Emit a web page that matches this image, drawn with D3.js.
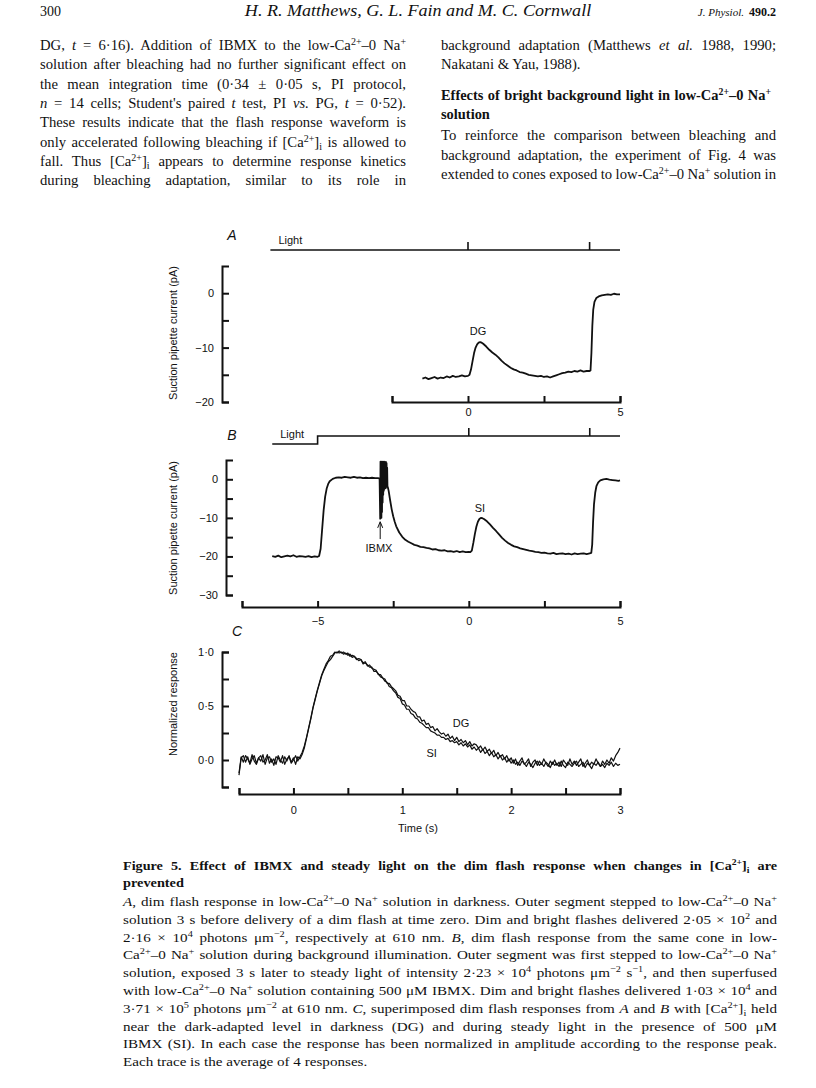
<!DOCTYPE html>
<html>
<head>
<meta charset="utf-8">
<script src="https://cdn.jsdelivr.net/npm/d3@7"></script>
<style>
  body { margin: 0; background: #fff; }
</style>
</head>
<body>
<script>
// ---- data ----
// A: dim flash in darkness (pA vs s)
const timeA = [-1.5,-1.4,-1.3,-1.2,-1.1,-1.0,-0.9,-0.8,-0.7,-0.6,-0.5,-0.4,-0.3,-0.2,-0.1,0.0,0.05,0.1,0.15,0.2,0.25,0.3,0.35,0.4,0.45,0.5,0.6,0.7,0.8,0.9,1.0,1.1,1.2,1.3,1.4,1.5,1.6,1.7,1.8,1.9,2.0,2.1,2.2,2.3,2.4,2.5,2.6,2.7,2.8,2.9,3.0,3.1,3.2,3.3,3.4,3.5,3.6,3.7,3.8,3.9,4.0,4.03,4.06,4.09,4.12,4.16,4.22,4.3,4.4,4.5,4.6,4.7,4.8,4.9,5.0];
const currentA = [-15.7,-15.5,-15.8,-15.6,-15.4,-15.7,-15.5,-15.6,-15.3,-15.5,-15.2,-15.4,-15.3,-15.1,-15.3,-15.2,-15.0,-14.0,-12.5,-11.0,-10.0,-9.4,-9.1,-9.0,-9.1,-9.3,-9.8,-10.4,-10.9,-11.3,-11.8,-12.4,-12.9,-13.3,-13.7,-14.0,-14.2,-14.5,-14.6,-14.8,-15.0,-15.1,-15.2,-15.3,-15.2,-15.4,-15.3,-15.5,-15.3,-15.1,-14.9,-14.7,-14.6,-14.4,-14.5,-14.3,-14.4,-14.2,-14.4,-14.3,-14.3,-14.2,-11.0,-6.0,-3.0,-1.6,-0.9,-0.6,-0.4,-0.3,-0.2,-0.3,-0.1,-0.2,-0.2];

// B: dim flash during steady light + IBMX (pA vs s)
const timeB = [-6.5,-6.4,-6.3,-6.2,-6.1,-6.0,-5.9,-5.8,-5.7,-5.6,-5.5,-5.4,-5.3,-5.2,-5.1,-5.0,-4.95,-4.9,-4.85,-4.8,-4.75,-4.7,-4.65,-4.6,-4.5,-4.4,-4.3,-4.2,-4.1,-4.0,-3.9,-3.8,-3.7,-3.6,-3.5,-3.4,-3.3,-3.2,-3.1,-3.0,-2.95,
  -2.93,-2.92,-2.91,-2.90,-2.89,-2.88,-2.87,-2.86,-2.85,-2.84,-2.83,-2.82,-2.81,-2.80,-2.79,-2.78,-2.77,-2.76,-2.75,-2.74,-2.73,-2.72,-2.71,-2.70,-2.69,-2.68,
  -2.65,-2.6,-2.55,-2.5,-2.45,-2.4,-2.3,-2.2,-2.1,-2.0,-1.9,-1.8,-1.7,-1.6,-1.5,-1.4,-1.3,-1.2,-1.1,-1.0,-0.9,-0.8,-0.7,-0.6,-0.5,-0.4,-0.3,-0.2,-0.1,0.0,0.05,0.1,0.15,0.2,0.25,0.3,0.35,0.4,0.45,0.5,0.6,0.7,0.8,0.9,1.0,1.1,1.2,1.3,1.4,1.5,1.6,1.7,1.8,1.9,2.0,2.1,2.2,2.3,2.4,2.5,2.6,2.7,2.8,2.9,3.0,3.1,3.2,3.3,3.4,3.5,3.6,3.7,3.8,3.9,4.0,4.05,4.08,4.11,4.14,4.18,4.22,4.28,4.35,4.45,4.55,4.65,4.75,4.85,4.95,5.0];
const currentB = [-19.9,-20.1,-19.8,-20.2,-20.0,-19.8,-20.0,-19.7,-20.1,-19.9,-20.0,-20.1,-19.9,-20.2,-20.0,-20.1,-19.9,-18.0,-13.0,-8.0,-4.5,-2.4,-1.2,-0.5,0.1,0.4,0.5,0.4,0.6,0.5,0.4,0.6,0.4,0.5,0.3,0.4,0.3,0.4,0.3,0.3,0.2,
  -10.2,4.6,-9.8,4.5,-10.0,4.6,-8.5,4.5,-6.0,4.6,-4.0,4.5,-3.0,4.6,-2.5,4.5,-2.2,4.4,-2.3,4.5,-2.0,4.2,-1.5,3.0,-1.8,-2.0,
  -3.0,-5.5,-7.8,-9.6,-11.0,-12.2,-13.8,-14.9,-15.7,-16.2,-16.6,-17.0,-17.2,-17.5,-17.6,-17.8,-17.9,-18.2,-18.1,-18.4,-18.5,-18.4,-18.7,-18.6,-18.8,-18.6,-18.9,-18.7,-18.9,-18.8,-18.9,-18.5,-16.5,-14.2,-12.3,-11.0,-10.3,-10.0,-10.1,-10.3,-10.9,-11.7,-12.6,-13.4,-14.3,-15.2,-15.9,-16.5,-17.0,-17.4,-17.6,-17.9,-18.1,-18.3,-18.5,-18.6,-18.8,-18.9,-19.1,-19.0,-19.2,-19.3,-19.1,-19.4,-19.3,-19.2,-19.4,-19.3,-19.5,-19.2,-19.4,-19.3,-19.2,-19.4,-19.2,-19.1,-17.0,-11.0,-6.5,-3.5,-1.8,-0.8,-0.3,0.0,0.1,-0.1,-0.2,-0.3,-0.4,-0.3];

// C: normalized responses (DG = darkness, SI = steady light + IBMX) vs s
const timeC = [
  -0.50,-0.48,-0.46,-0.44,-0.42,-0.40,-0.38,-0.36,-0.34,-0.32,
  -0.30,-0.28,-0.26,-0.24,-0.22,-0.20,-0.18,-0.16,-0.14,-0.12,
  -0.10,-0.08,-0.06,-0.04,-0.02,0.00,0.02,0.04,0.06,0.08,
  0.10,0.12,0.14,0.16,0.18,0.20,0.22,0.24,0.26,0.28,
  0.30,0.32,0.34,0.36,0.38,0.40,0.42,0.44,0.46,0.48,
  0.50,0.52,0.54,0.56,0.58,0.60,0.62,0.64,0.66,0.68,
  0.70,0.72,0.74,0.76,0.78,0.80,0.82,0.84,0.86,0.88,
  0.90,0.92,0.94,0.96,0.98,1.00,1.02,1.04,1.06,1.08,
  1.10,1.12,1.14,1.16,1.18,1.20,1.22,1.24,1.26,1.28,
  1.30,1.32,1.34,1.36,1.38,1.40,1.42,1.44,1.46,1.48,
  1.50,1.52,1.54,1.56,1.58,1.60,1.62,1.64,1.66,1.68,
  1.70,1.72,1.74,1.76,1.78,1.80,1.82,1.84,1.86,1.88,
  1.90,1.92,1.94,1.96,1.98,2.00,2.02,2.04,2.06,2.08,
  2.10,2.12,2.14,2.16,2.18,2.20,2.22,2.24,2.26,2.28,
  2.30,2.32,2.34,2.36,2.38,2.40,2.42,2.44,2.46,2.48,
  2.50,2.52,2.54,2.56,2.58,2.60,2.62,2.64,2.66,2.68,
  2.70,2.72,2.74,2.76,2.78,2.80,2.82,2.84,2.86,2.88,
  2.90,2.92,2.94,2.96,2.98,3.00];
const responseDG = [
  -0.12,0.03,-0.02,0.04,0.01,-0.03,0.05,-0.01,-0.04,0.02,
  0.04,-0.02,0.00,0.05,-0.03,0.01,-0.05,0.03,0.02,-0.02,
  0.04,-0.04,0.01,0.03,-0.03,0.00,0.04,-0.01,0.03,0.07,
  0.13,0.21,0.30,0.39,0.49,0.57,0.65,0.72,0.79,0.84,
  0.89,0.92,0.96,0.97,1.00,0.99,1.01,0.99,1.00,0.98,
  0.99,0.96,0.97,0.96,0.93,0.94,0.93,0.90,0.91,0.87,
  0.88,0.85,0.84,0.83,0.79,0.79,0.76,0.75,0.71,0.71,
  0.68,0.66,0.64,0.60,0.59,0.55,0.55,0.50,0.50,0.47,
  0.45,0.44,0.40,0.40,0.36,0.37,0.33,0.34,0.30,0.31,
  0.27,0.29,0.26,0.24,0.25,0.22,0.24,0.20,0.22,0.18,
  0.21,0.17,0.19,0.16,0.18,0.14,0.17,0.13,0.15,0.14,
  0.11,0.13,0.09,0.12,0.08,0.10,0.06,0.09,0.04,0.07,
  0.03,0.05,0.01,0.04,-0.01,0.02,-0.03,0.01,-0.05,-0.01,
  0.02,-0.04,-0.02,0.01,-0.06,-0.02,0.00,-0.05,-0.01,-0.04,
  0.01,-0.03,-0.06,-0.01,-0.04,0.00,-0.05,-0.02,-0.06,0.00,
  -0.03,-0.05,0.01,-0.04,-0.01,-0.05,-0.02,0.01,-0.06,-0.03,
  0.00,-0.05,-0.02,-0.04,0.01,-0.03,-0.06,-0.01,-0.04,0.00,
  -0.03,0.02,-0.01,0.04,0.07,0.11];
const responseSI = [
  -0.14,0.02,0.04,-0.02,0.03,-0.04,0.01,0.04,-0.03,0.02,
  -0.01,0.05,-0.04,0.02,0.03,-0.02,0.01,-0.04,0.04,0.00,
  -0.03,0.03,-0.01,0.04,-0.02,0.02,-0.04,0.03,0.01,0.05,
  0.11,0.20,0.29,0.38,0.48,0.56,0.64,0.71,0.78,0.83,
  0.87,0.91,0.93,0.96,0.99,1.00,0.99,1.00,0.98,0.99,
  0.97,0.98,0.95,0.96,0.94,0.92,0.93,0.89,0.90,0.88,
  0.86,0.86,0.82,0.82,0.80,0.77,0.76,0.73,0.72,0.68,
  0.67,0.64,0.62,0.58,0.57,0.52,0.51,0.47,0.47,0.43,
  0.42,0.39,0.38,0.35,0.34,0.32,0.30,0.30,0.27,0.26,
  0.25,0.23,0.23,0.21,0.21,0.19,0.20,0.17,0.18,0.16,
  0.17,0.14,0.16,0.13,0.15,0.12,0.14,0.10,0.12,0.09,
  0.11,0.07,0.10,0.06,0.08,0.04,0.07,0.03,0.05,0.01,
  0.04,0.00,0.02,-0.02,0.01,-0.03,0.00,-0.04,-0.02,-0.05,
  -0.01,-0.03,-0.06,-0.02,-0.04,-0.07,-0.03,-0.01,-0.05,-0.03,
  -0.06,-0.02,-0.04,-0.07,-0.02,-0.05,-0.03,-0.06,-0.01,-0.05,
  -0.07,-0.02,-0.04,-0.06,-0.03,-0.01,-0.06,-0.04,-0.02,-0.07,
  -0.03,-0.05,-0.08,-0.03,-0.05,-0.02,-0.06,-0.04,-0.07,-0.03,
  -0.05,-0.02,-0.06,-0.03,-0.05,-0.04];

// light monitor: flash times and background step
const flashTimes = [0, 4];
const lightStartTime = -6.5;
const backgroundOnTime = -5;

// axis ticks
const ticksAy = [-20, -15, -10, -5, 0], labelsAy = [-20, -10, 0];
const ticksAx = [-2.5, 0, 2.5, 5], labelsAx = [0, 5];
const ticksBy = [-30, -25, -20, -15, -10, -5, 0], labelsBy = [-30, -20, -10, 0];
const ticksBx = [-7.5, -5, -2.5, 0, 2.5, 5], labelsBx = [-5, 0, 5];
const ticksCy = [-0.25, 0, 0.25, 0.5, 0.75, 1], labelsCy = [0, 0.5, 1];
const ticksCx = [-0.5, 0, 0.5, 1, 1.5, 2, 2.5, 3], labelsCx = [0, 1, 2, 3];

// ---- page text ----
const leftLines = [
  "DG, *t* = 6·16). Addition of IBMX to the low-Ca^{2+}–0 Na^{+}",
  "solution after bleaching had no further significant effect on",
  "the mean integration time (0·34 ± 0·05 s, PI protocol,",
  "*n* = 14 cells; Student's paired *t* test, PI *vs.* PG, *t* = 0·52).",
  "These results indicate that the flash response waveform is",
  "only accelerated following bleaching if [Ca^{2+}]_{i} is allowed to",
  "fall. Thus [Ca^{2+}]_{i} appears to determine response kinetics",
  "during bleaching adaptation, similar to its role in"
];
const rightLines = [
  ["background adaptation (Matthews *et al.* 1988, 1990;", true],
  ["Nakatani & Yau, 1988).", false]
];
const rightHeading = ["Effects of bright background light in low-Ca^{2+}–0 Na^{+}", "solution"];
const rightLines2 = [
  "To reinforce the comparison between bleaching and",
  "background adaptation, the experiment of Fig. 4 was",
  "extended to cones exposed to low-Ca^{2+}–0 Na^{+} solution in"
];
const captionTitle = ["Figure 5. Effect of IBMX and steady light on the dim flash response when changes in [Ca^{2+}]_{i} are", "prevented"];
const captionLines = [
  ["*A*, dim flash response in low-Ca^{2+}–0 Na^{+} solution in darkness. Outer segment stepped to low-Ca^{2+}–0 Na^{+}", true],
  ["solution 3 s before delivery of a dim flash at time zero. Dim and bright flashes delivered 2·05 × 10^{2} and", true],
  ["2·16 × 10^{4} photons μm^{−2}, respectively at 610 nm. *B*, dim flash response from the same cone in low-", true],
  ["Ca^{2+}–0 Na^{+} solution during background illumination. Outer segment was first stepped to low-Ca^{2+}–0 Na^{+}", true],
  ["solution, exposed 3 s later to steady light of intensity 2·23 × 10^{4} photons μm^{−2} s^{−1}, and then superfused", true],
  ["with low-Ca^{2+}–0 Na^{+} solution containing 500 μM IBMX. Dim and bright flashes delivered 1·03 × 10^{4} and", true],
  ["3·71 × 10^{5} photons μm^{−2} at 610 nm. *C*, superimposed dim flash responses from *A* and *B* with [Ca^{2+}]_{i} held", true],
  ["near the dark-adapted level in darkness (DG) and during steady light in the presence of 500 μM", true],
  ["IBMX (SI). In each case the response has been normalized in amplitude according to the response peak.", true],
  ["Each trace is the average of 4 responses.", false]
];

const W = 816, H = 1088;
const serif = "'Liberation Serif', 'Times New Roman', serif";
const sans = "'Liberation Sans', Arial, sans-serif";

const svg = d3.select("body").append("svg")
  .attr("width", W).attr("height", H);
svg.append("rect").attr("width", W).attr("height", H).attr("fill", "#fff");

// tiny markup: ^{sup} _{sub} *italic*
function rich(text, str) {
  let off = 0;
  str.split(/(\^\{[^}]*\}|_\{[^}]*\}|\*[^*]+\*)/).filter(s => s).forEach(p => {
    let t = p, target = 0, small = false, ital = false;
    if (p.startsWith("^{")) { t = p.slice(2, -1); target = -5; small = true; }
    else if (p.startsWith("_{")) { t = p.slice(2, -1); target = 3; small = true; }
    else if (p.startsWith("*")) { t = p.slice(1, -1); ital = true; }
    const ts = text.append("tspan").text(t);
    if (target - off !== 0) ts.attr("dy", target - off);
    off = target;
    if (small) ts.attr("font-size", "0.68em");
    if (ital) ts.attr("font-style", "italic");
  });
}

// opts: size, bold, width (justify via word spacing), sx (horizontal glyph scale), anchor
function textLine(x, y, str, opts) {
  const sx = opts.sx || 1;
  const g = svg.append("g").attr("transform", `translate(${x},${y}) scale(${sx},1)`);
  const t = g.append("text")
    .attr("font-family", opts.family || serif)
    .attr("font-size", opts.size)
    .attr("text-anchor", opts.anchor || "start")
    .attr("fill", "#111");
  if (opts.bold) t.attr("font-weight", "bold");
  rich(t, str);
  if (opts.width) {
    const natural = t.node().getComputedTextLength();
    const spaces = (t.text().match(/ /g) || []).length;
    if (spaces) t.attr("word-spacing", (opts.width / sx - natural) / spaces);
  }
  return t;
}

// header
textLine(40, 16, "300", { size: 14 });
textLine(418, 16, "*H. R. Matthews, G. L. Fain and M. C. Cornwall*", { size: 16, sx: 1.13, anchor: "middle" });
textLine(744, 16, "*J. Physiol.*", { size: 11, anchor: "end" });
textLine(776, 16, "490.2", { size: 12, bold: true, anchor: "end" });

// body columns
const body = { size: 14, sx: 1.05 };
leftLines.forEach((l, i) => textLine(40, 50 + i * 19.3, l, { ...body, width: 366 }));
rightLines.forEach((l, i) => textLine(441, 50 + i * 19.3, l[0], { ...body, width: l[1] ? 335 : null }));
textLine(441, 100, rightHeading[0], { size: 14, sx: 1.03, bold: true, width: 330 });
textLine(441, 119, rightHeading[1], { size: 14, sx: 1.03, bold: true });
rightLines2.forEach((l, i) => textLine(441, 140 + i * 19.5, l, { ...body, width: 335 }));

// caption
textLine(123, 870, captionTitle[0], { size: 13.5, bold: true, sx: 1.05, width: 654 });
textLine(123, 887, captionTitle[1], { size: 13.5, bold: true, sx: 1.06 });
captionLines.forEach((l, i) => textLine(123, 906 + i * 17.8, l[0], {
  size: 13.5, sx: 1.12, width: l[1] ? 654 : null
}));

// ---- panels ----
const fmtInt = d => d3.format("d")(d);
const fmtDot = d => d3.format(".1f")(d).replace(".", "·");

function styleAxis(g) {
  g.attr("font-family", sans).attr("font-size", 11);
  g.select(".domain").attr("stroke", "#111").attr("stroke-width", 2);
  g.selectAll(".tick line").attr("stroke", "#111").attr("stroke-width", 2);
  g.selectAll(".tick text").attr("fill", "#111");
}
function yAxis(x, scale, ticks, labels, fmt) {
  const g = svg.append("g").attr("transform", `translate(${x},0)`)
    .call(d3.axisLeft(scale).tickValues(ticks).tickSize(-7).tickSizeOuter(-7).tickPadding(8)
      .tickFormat(d => labels.includes(d) ? fmt(d) : ""));
  styleAxis(g);
}
function xAxis(y, scale, ticks, labels, fmt, pad) {
  const g = svg.append("g").attr("transform", `translate(0,${y})`)
    .call(d3.axisBottom(scale).tickValues(ticks).tickSize(-6).tickSizeOuter(-6).tickPadding(pad)
      .tickFormat(d => labels.includes(d) ? fmt(d) : ""));
  styleAxis(g);
}
function trace(xs, ys, times, vals, w) {
  const pts = times.map((t, i) => [t, vals[i]]).filter(d => d[1] != null);
  svg.append("path").datum(pts)
    .attr("fill", "none").attr("stroke", "#111").attr("stroke-width", w)
    .attr("stroke-linejoin", "round")
    .attr("d", d3.line().x(d => xs(d[0])).y(d => ys(d[1])));
}
function label(x, y, str, size, anchor) {
  return svg.append("text").attr("x", x).attr("y", y)
    .attr("font-family", sans).attr("font-size", size || 11)
    .attr("text-anchor", anchor || "middle").attr("fill", "#111").text(str);
}
function yTitle(x, yc, str) {
  svg.append("text").attr("transform", `translate(${x},${yc}) rotate(-90)`)
    .attr("font-family", sans).attr("font-size", 11).attr("text-anchor", "middle")
    .attr("fill", "#111").text(str);
}
function lightMonitor(xs, yLow, yHigh, stepAt) {
  const pts = stepAt == null
    ? [[lightStartTime, yLow], [xs.domain()[1], yLow]]
    : [[lightStartTime, yLow], [stepAt, yLow], [stepAt, yHigh], [xs.domain()[1], yHigh]];
  svg.append("path").datum(pts).attr("fill", "none").attr("stroke", "#111").attr("stroke-width", 1.6)
    .attr("d", d3.line().x(d => xs(d[0])).y(d => d[1]));
  svg.selectAll(null).data(flashTimes).enter().append("line")
    .attr("x1", d => xs(d)).attr("x2", d => xs(d))
    .attr("y1", yHigh).attr("y2", yHigh - 8)
    .attr("stroke", "#111").attr("stroke-width", 1.6);
  label(xs(lightStartTime) + 8, yLow - 6, "Light", 11, "start");
}
function panelLetter(x, y, s) {
  label(x, y, s, 14, "middle").attr("font-style", "italic");
}

// Panel A
const xA = d3.scaleLinear().domain([-2.5, 5]).range([392, 620]);
const yA = d3.scaleLinear().domain([-20, 5]).range([402, 266]);
panelLetter(232, 240, "A");
lightMonitor(xA, 250, 250, null);
yAxis(222, yA, ticksAy, labelsAy, fmtInt);
xAxis(402, xA, ticksAx, labelsAx, fmtInt, 6);
trace(xA, yA, timeA, currentA, 1.8);
label(xA(0.33), yA(-7.7), "DG");
yTitle(177, 333, "Suction pipette current (pA)");

// Panel B
const xB = d3.scaleLinear().domain([-7.5, 5]).range([242, 620]);
const yB = d3.scaleLinear().domain([-30, 5]).range([595, 460]);
panelLetter(232, 440, "B");
lightMonitor(xB, 444, 436, backgroundOnTime);
yAxis(226, yB, ticksBy, labelsBy, fmtInt);
xAxis(607, xB, ticksBx, labelsBx, fmtInt, 10);
trace(xB, yB, timeB, currentB, 1.8);
label(xB(0.37), yB(-8.5), "SI");
label(xB(-2.97), yB(-18.8), "IBMX");
svg.append("line").attr("x1", xB(-2.93)).attr("x2", xB(-2.93))
  .attr("y1", yB(-15.5)).attr("y2", yB(-11.2)).attr("stroke", "#111").attr("stroke-width", 1);
svg.append("path").attr("d", d3.line()([[xB(-2.93) - 2.5, yB(-12.6)], [xB(-2.93), yB(-11.0)], [xB(-2.93) + 2.5, yB(-12.6)]]))
  .attr("fill", "none").attr("stroke", "#111").attr("stroke-width", 1);
yTitle(177, 528, "Suction pipette current (pA)");

// Panel C
const xC = d3.scaleLinear().domain([-0.5, 3]).range([239, 620]);
const yC = d3.scaleLinear().domain([-0.25, 1]).range([787, 652]);
panelLetter(237, 636, "C");
yAxis(222, yC, ticksCy, labelsCy, fmtDot);
xAxis(794, xC, ticksCx, labelsCx, fmtInt, 12);
trace(xC, yC, timeC, responseDG, 1.2);
trace(xC, yC, timeC, responseSI, 1.2);
label(xC(1.54), yC(0.31), "DG");
label(xC(1.27), yC(0.03), "SI");
yTitle(177, 704, "Normalized response");
label(418, 832, "Time (s)");
</script>
</body>
</html>
